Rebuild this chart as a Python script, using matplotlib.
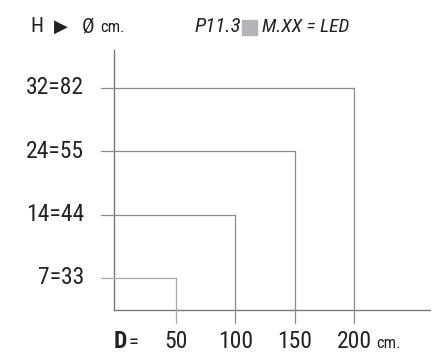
import matplotlib
matplotlib.use("Agg")
import matplotlib.pyplot as plt
from matplotlib.patches import Rectangle

plt.rcParams['font.family'] = ['Roboto Condensed', 'DejaVu Sans']

# data
diam_cm = [50, 100, 150, 200]
levels = [1, 2, 3, 4]
level_labels = ["7=33", "14=44", "24=55", "32=82"]
xtick_labels = ["50", "100", "150", "200"]

W, H = 434, 357
fig = plt.figure(figsize=(W / 100, H / 100), dpi=100)

def fx(px):
    return px / W

def fy(py):
    return 1 - py / H

ax = fig.add_axes([fx(114), fy(310), fx(430) - fx(114), fy(50) - fy(310)])
ax.set_xlim(-2.3, 264)
ax.set_ylim(0.494, 4.60)
ax.axis('off')

axis_col = '#7a7a7a'
line_col = '#8c8c8c'
txt_col = '#222222'
ax.plot([-2.3, -2.3], [0.494, 4.60], color=axis_col, lw=1.0, clip_on=False)
ax.plot([-2.3, 264], [0.494, 0.494], color=axis_col, lw=1.0, clip_on=False)

for d, lv, lab in zip(diam_cm, levels, level_labels):
    col = '#a8a8a8' if lv == 1 else line_col
    ax.plot([-13.2, d], [lv, lv], color=col, lw=0.9, clip_on=False)
    ax.plot([d, d], [lv, 0.289], color=col, lw=0.9, clip_on=False)
    ax.text(-27.6, lv, lab, ha='right', va='center', fontsize=17,
            color=txt_col, clip_on=False)

for d, lab in zip(diam_cm, xtick_labels):
    ax.text(d, 0.0, lab, ha='center', va='center', fontsize=17,
            color=txt_col, clip_on=False)

# bottom-left "D ="
fig.text(fx(114), fy(342), "D", fontsize=17, fontweight='bold',
         ha='left', va='center', color=txt_col)
fig.text(fx(129), fy(342), "=", fontsize=15, ha='left', va='center',
         color=txt_col)
fig.text(fx(376), fy(344), "cm.", fontsize=12, ha='left', va='center',
         color=txt_col)

# top header
fig.text(fx(30), fy(27), "H", fontsize=15, ha='left', va='center',
         color=txt_col)
fig.text(fx(54), fy(27), "\u25B6", fontsize=13, ha='left', va='center',
         color=txt_col, family='DejaVu Sans')
fig.text(fx(82), fy(27), "\u00D8", fontsize=15, ha='left', va='center',
         color=txt_col)
fig.text(fx(100), fy(28), "cm.", fontsize=12, ha='left', va='center',
         color=txt_col)

fig.text(fx(195), fy(27), "P11.3", fontsize=15, style='italic',
         ha='left', va='center', color=txt_col)
fig.patches.append(Rectangle((fx(242), fy(35)), fx(15), fy(20) - fy(35),
                             transform=fig.transFigure, color='#b4b4b8'))
fig.text(fx(262), fy(27), "M.XX = LED", fontsize=14, style='italic',
         ha='left', va='center', color=txt_col)

fig.savefig('out.png', dpi=100)
